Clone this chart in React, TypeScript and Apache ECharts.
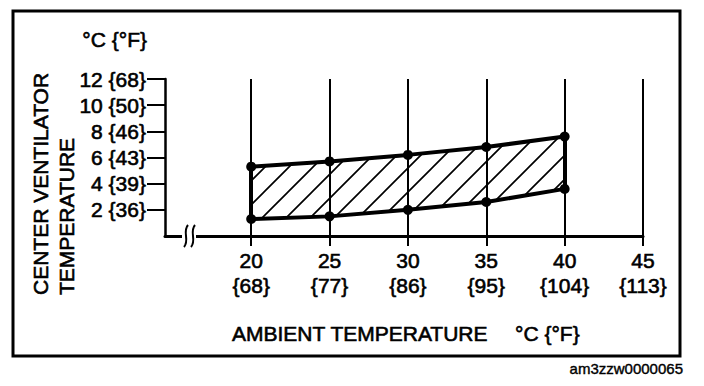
import React, { useEffect, useRef } from "react";
import * as echarts from "echarts";

const ambientC = [20, 25, 30, 35, 40];
const upperC = [5.3, 5.7, 6.2, 6.8, 7.6];
const lowerC = [1.3, 1.5, 2.0, 2.6, 3.6];
const xTickC = [20, 25, 30, 35, 40, 45];
const xTickF = ["68", "77", "86", "95", "104", "113"];
const yTickC = [2, 4, 6, 8, 10, 12];
const yTickF = ["36", "39", "43", "46", "50", "68"];

const FONT = "Liberation Sans, Arial, Helvetica, sans-serif";

function makeHatch(): HTMLCanvasElement {
  const s = 24;
  const c = document.createElement("canvas");
  c.width = s;
  c.height = s;
  const ctx = c.getContext("2d")!;
  ctx.strokeStyle = "#000";
  ctx.lineWidth = 1.7;
  ctx.beginPath();
  ctx.moveTo(0, s);
  ctx.lineTo(s, 0);
  ctx.moveTo(-s / 2, s / 2);
  ctx.lineTo(s / 2, -s / 2);
  ctx.moveTo(s / 2, s * 1.5);
  ctx.lineTo(s * 1.5, s / 2);
  ctx.stroke();
  return c;
}

export default function App() {
  const ref = useRef<HTMLDivElement>(null);
  useEffect(() => {
    if (!ref.current) return;
    const chart = echarts.init(ref.current, null, { renderer: "svg" });
    const yMax = yTickC[yTickC.length - 1];
    const lowerPts = ambientC.map((x, i) => [x, lowerC[i]]);
    const upperPts = ambientC.map((x, i) => [x, upperC[i]]);
    const last = ambientC.length - 1;
    const hatch = makeHatch();
    const gridLines = xTickC.map((x) => [
      { coord: [x, 0] },
      { coord: [x, yMax] },
    ]);
    const edgeLines = [
      [{ coord: [ambientC[0], lowerC[0]] }, { coord: [ambientC[0], upperC[0]] }],
      [{ coord: [ambientC[last], lowerC[last]] }, { coord: [ambientC[last], upperC[last]] }],
    ];
    const textStyle = { fill: "#000", fontFamily: FONT, fontSize: 21, stroke: "#000", lineWidth: 0.6 };
    const labelThick = { textBorderColor: "#000", textBorderWidth: 0.6 };
    chart.setOption({
      animation: false,
      backgroundColor: "#fff",
      grid: { left: 165, right: 61, top: 79, bottom: 150, containLabel: false },
      xAxis: {
        type: "value",
        min: 14.5,
        max: 45,
        splitLine: { show: false },
        axisLine: { show: true, lineStyle: { color: "#000", width: 3 } },
        axisTick: {
          show: true,
          customValues: xTickC,
          length: 10,
          lineStyle: { color: "#000", width: 2 },
        },
        axisLabel: {
          customValues: xTickC,
          margin: 12,
          color: "#000",
          fontFamily: FONT,
          fontSize: 21,
          lineHeight: 25,
          ...labelThick,
          formatter: (v: number) => {
            const i = xTickC.indexOf(v);
            return i < 0 ? "" : `${v}\n{${xTickF[i]}}`;
          },
        },
      },
      yAxis: {
        type: "value",
        min: 0,
        max: yMax,
        splitLine: { show: false },
        axisLine: { show: true, lineStyle: { color: "#000", width: 2.5 } },
        axisTick: {
          show: true,
          customValues: yTickC,
          length: 18,
          lineStyle: { color: "#000", width: 2 },
        },
        axisLabel: {
          customValues: yTickC,
          margin: 19,
          color: "#000",
          fontFamily: FONT,
          fontSize: 21,
          ...labelThick,
          formatter: (v: number) => {
            const i = yTickC.indexOf(v);
            return i < 0 ? "" : `${v} {${yTickF[i]}}`;
          },
        },
      },
      series: [
        {
          type: "custom",
          data: [0],
          silent: true,
          z: 2,
          renderItem: (params: any, api: any) => {
            const pts = [
              ...upperPts.map((p) => api.coord(p)),
              ...lowerPts.slice().reverse().map((p) => api.coord(p)),
            ];
            return {
              type: "polygon",
              shape: { points: pts },
              style: { fill: { image: hatch, repeat: "repeat" }, stroke: "none" },
            };
          },
        },
        {
          type: "line",
          data: upperPts,
          symbol: "circle",
          symbolSize: 10,
          itemStyle: { color: "#000" },
          lineStyle: { color: "#000", width: 4 },
          z: 5,
          markLine: {
            silent: true,
            symbol: ["none", "none"],
            label: { show: false },
            lineStyle: { color: "#000", width: 2, type: "solid" },
            data: [
              ...gridLines,
              ...edgeLines.map((pair) =>
                pair.map((p) => ({ ...p, lineStyle: { width: 4, color: "#000", type: "solid" } }))
              ),
            ],
          },
        },
        {
          type: "line",
          data: lowerPts,
          symbol: "circle",
          symbolSize: 10,
          itemStyle: { color: "#000" },
          lineStyle: { color: "#000", width: 4 },
          z: 5,
        },
      ],
      graphic: [
        {
          type: "rect",
          shape: { x: 13, y: 11, width: 667, height: 345 },
          style: { fill: "none", stroke: "#000", lineWidth: 3 },
          z: 10,
        },
        {
          type: "rect",
          shape: { x: 182, y: 231, width: 14, height: 10 },
          style: { fill: "#fff" },
          z: 20,
        },
        {
          type: "bezierCurve",
          shape: { x1: 188, y1: 225, cpx1: 182, cpy1: 232, cpx2: 190, cpy2: 240, x2: 184, y2: 247 },
          style: { stroke: "#000", lineWidth: 2, fill: "none" },
          z: 21,
        },
        {
          type: "bezierCurve",
          shape: { x1: 195, y1: 225, cpx1: 189, cpy1: 232, cpx2: 197, cpy2: 240, x2: 191, y2: 247 },
          style: { stroke: "#000", lineWidth: 2, fill: "none" },
          z: 21,
        },
        {
          type: "text",
          x: 147,
          y: 39,
          style: { ...textStyle, text: "°C {°F}", textAlign: "right", textVerticalAlign: "middle" },
          z: 10,
        },
        {
          type: "text",
          x: 40,
          y: 295,
          rotation: Math.PI / 2,
          style: { ...textStyle, text: "CENTER VENTILATOR", textAlign: "left", textVerticalAlign: "middle" },
          z: 10,
        },
        {
          type: "text",
          x: 66,
          y: 295,
          rotation: Math.PI / 2,
          style: { ...textStyle, text: "TEMPERATURE", textAlign: "left", textVerticalAlign: "middle" },
          z: 10,
        },
        {
          type: "text",
          x: 232,
          y: 333,
          style: { ...textStyle, text: "AMBIENT TEMPERATURE", textAlign: "left", textVerticalAlign: "middle" },
          z: 10,
        },
        {
          type: "text",
          x: 515,
          y: 333,
          style: { ...textStyle, text: "°C {°F}", textAlign: "left", textVerticalAlign: "middle" },
          z: 10,
        },
        {
          type: "text",
          x: 683,
          y: 368,
          style: { fill: "#000", fontFamily: FONT, fontSize: 15, stroke: "#000", lineWidth: 0.4, text: "am3zzw0000065", textAlign: "right", textVerticalAlign: "middle" },
          z: 10,
        },
      ],
    });
    return () => chart.dispose();
  }, []);
  return <div ref={ref} style={{ width: 704, height: 386, position: "absolute", left: 0, top: 0 }} />;
}
